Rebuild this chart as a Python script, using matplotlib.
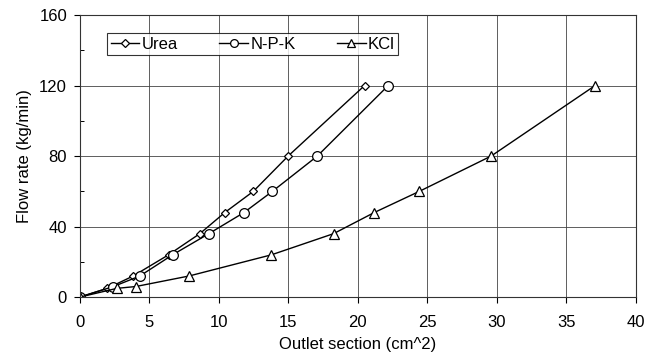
import matplotlib
matplotlib.use("Agg")
import matplotlib.pyplot as plt
from matplotlib.ticker import MultipleLocator

plt.rcParams['font.family'] = ['Liberation Sans', 'DejaVu Sans']

urea_x = [0, 2.0, 3.86, 6.4, 8.65, 10.45, 12.5, 15.0, 20.5]
urea_y = [0, 5, 12, 24, 36, 48, 60, 80, 120]
npk_x = [0, 2.43, 4.34, 6.69, 9.3, 11.83, 13.87, 17.1, 22.2]
npk_y = [0, 6, 12, 24, 36, 48, 60, 80, 120]
kcl_x = [0, 2.7, 4.03, 7.88, 13.8, 18.27, 21.2, 24.44, 29.6, 37.08]
kcl_y = [0, 5, 6, 12, 24, 36, 48, 60, 80, 120]

x_ticks = [0, 5, 10, 15, 20, 25, 30, 35, 40]
y_ticks = [0, 40, 80, 120, 160]

fig = plt.figure(figsize=(6.52, 3.58), dpi=100)
ax = fig.add_axes([0.122, 0.170, 0.853, 0.788])

mk = dict(color='black', lw=1.0, markerfacecolor='white', markeredgecolor='black', markeredgewidth=0.9)
ax.plot(urea_x, urea_y, marker='D', markersize=4.5, label='Urea', **mk)
ax.plot(npk_x, npk_y, marker='o', markersize=7, label='N-P-K', **mk)
ax.plot(kcl_x, kcl_y, marker='^', markersize=6.5, label='KCl', **mk)

ax.set_xlim(0, 40)
ax.set_ylim(0, 160)
ax.set_xticks(x_ticks)
ax.set_yticks(y_ticks)
ax.yaxis.set_minor_locator(MultipleLocator(20))
ax.grid(True, which='major', color='#444444', lw=0.6)
ax.set_axisbelow(True)
ax.tick_params(axis='both', which='major', labelsize=12, direction='out', length=4, width=0.8)
ax.tick_params(axis='x', which='major', pad=9)
ax.tick_params(axis='y', which='major', pad=5)
ax.tick_params(axis='y', which='minor', direction='in', length=3, width=0.7)
for s in ax.spines.values():
    s.set_linewidth(0.8)
    s.set_color('#333333')

ax.set_xlabel('Outlet section (cm^2)', fontsize=12, labelpad=5)
ax.set_ylabel('Flow rate (kg/min)', fontsize=12, labelpad=5)

leg = ax.legend(loc='center left', bbox_to_anchor=(0.05, 0.858, 0.523, 0.078), mode='expand',
                ncol=3, fontsize=12, frameon=True, fancybox=False, edgecolor='black',
                handlelength=1.7, handletextpad=0.15, borderpad=0.2, borderaxespad=0,
                markerscale=0.8)
leg.get_frame().set_linewidth(0.8)

fig.savefig('out.png', dpi=100, facecolor='white')
